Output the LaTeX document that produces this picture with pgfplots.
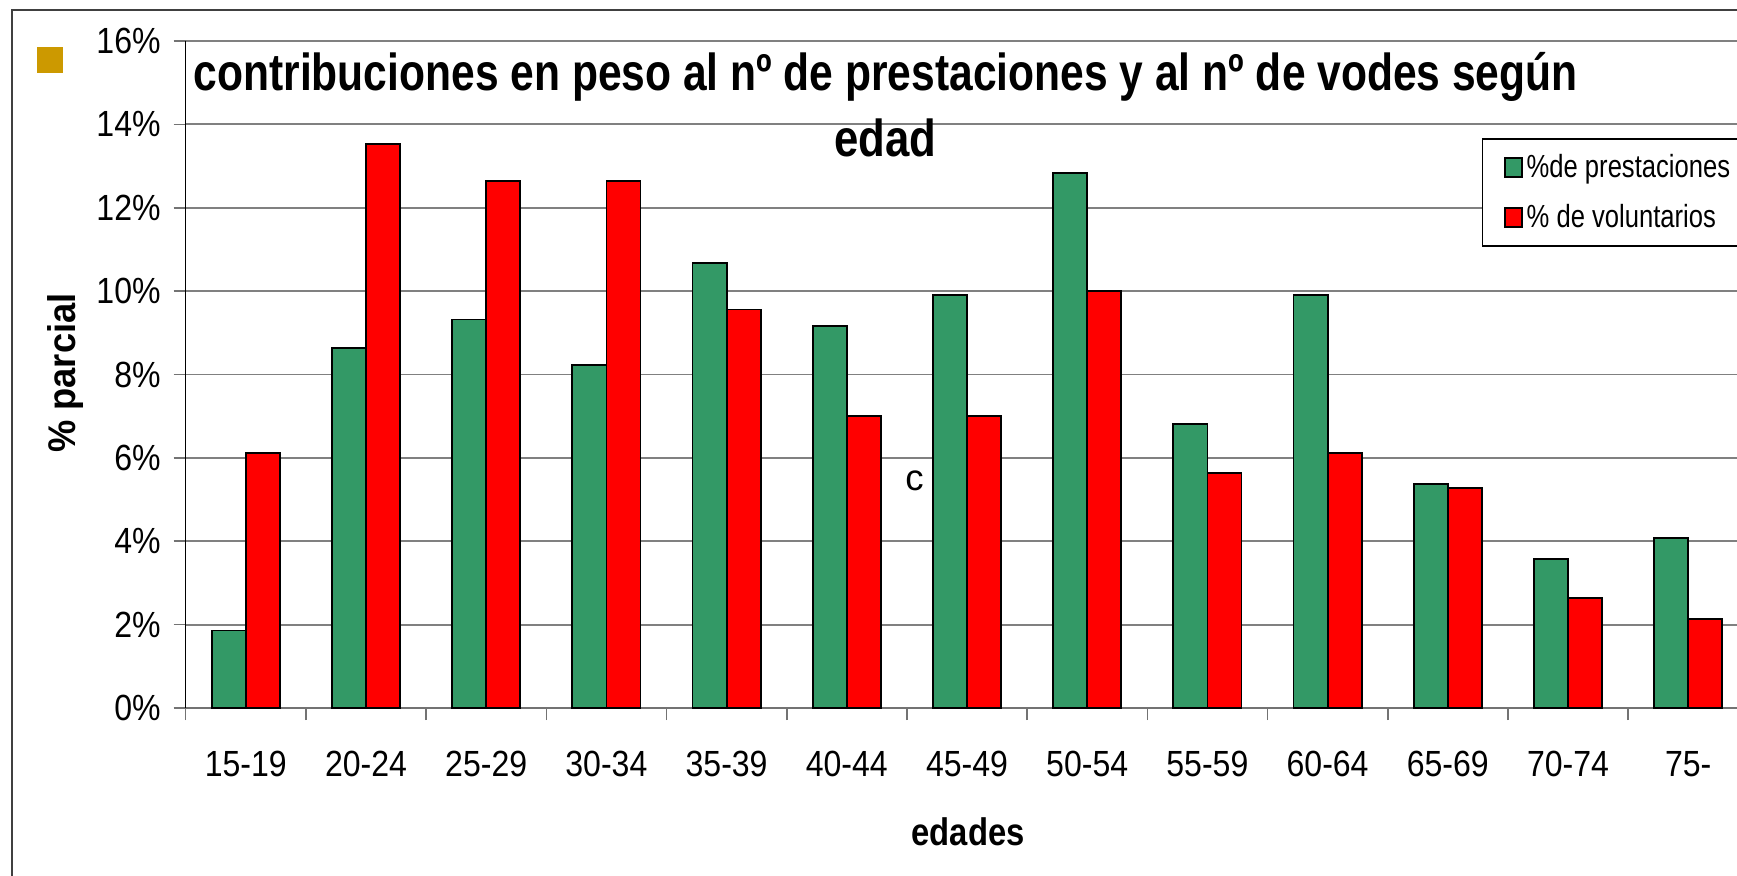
\documentclass[border=0pt]{standalone}
\usepackage{pgfplots}
\pgfplotsset{compat=1.18}
\usepackage{fontspec}
\setmainfont{Liberation Sans}
\newfontfamily\tickfont[FakeStretch=0.88]{Liberation Sans}
\newfontfamily\legfont[FakeStretch=0.8]{Liberation Sans}
\newfontfamily\ylabfont[FakeStretch=0.94]{Liberation Sans}
\definecolor{cgreen}{RGB}{51,153,102}
\definecolor{cred}{RGB}{255,0,0}
\definecolor{gold}{RGB}{204,153,0}
\begin{document}
\begin{tikzpicture}
\path[use as bounding box] (-92.85pt,-83.5pt) rectangle (775.65pt,354pt);
\clip (-92.85pt,-83.5pt) rectangle (775.65pt,354pt);
\fill[white] (-92.85pt,-83.5pt) rectangle (775.65pt,354pt);
\draw[line width=1pt, black!75] (-86.7pt,-100pt) -- (-86.7pt,349pt) -- (800pt,349pt);
\fill[gold] (-74.2pt,317.35pt) rectangle (-61.2pt,330.35pt);
\begin{axis}[
  scale only axis, width=775.65pt, height=333.5pt,
  xmin=-0.5, xmax=12.406, ymin=0, ymax=16,
  axis x line*=bottom, axis y line*=left,
  x axis line style={-, draw=black!55, line width=1pt},
  y axis line style={-, draw=black, line width=0.65pt},
  xtick={-0.5,0.5,...,11.5},
  xticklabels={},
  extra x ticks={0,...,12},
  extra x tick labels={15-19,20-24,25-29,30-34,35-39,40-44,45-49,50-54,55-59,60-64,65-69,70-74,75-},
  extra x tick style={major tick length=0pt, grid=none},
  ytick={0,2,...,16},
  yticklabels={0\%,2\%,4\%,6\%,8\%,10\%,12\%,14\%,16\%},
  tick align=outside,
  major tick length=6pt,
  tick style={draw=black!55, line width=0.8pt},
  ymajorgrids, major grid style={draw=black!50, line width=0.9pt},
  xticklabel style={font=\tickfont\fontsize{18.2}{20}\selectfont, anchor=base, inner sep=0pt, yshift=-34pt},
  yticklabel style={font=\tickfont\fontsize{18.2}{20}\selectfont, anchor=east, inner sep=0pt, xshift=-6.35pt},
  legend style={at={(0.8358,0.8541)}, anchor=north west, draw=black, line width=0.6pt, fill=white,
    font=\legfont\fontsize{16}{19}\selectfont, inner xsep=10.5pt, inner ysep=6.8pt,
    row sep=9.8pt, column sep=0.8pt, nodes={inner sep=1pt}},
  legend cell align=left,
  clip=false,
]
\addplot[ybar, bar width=0.283, bar shift=-0.1415, fill=cgreen, draw=black, line width=0.9pt,
  legend image code/.code={\draw[fill=cgreen, draw=black, line width=0.9pt] (0pt,-4.8pt) rectangle (8.7pt,4.8pt);}]
  coordinates {(0,1.86) (1,8.63) (2,9.32) (3,8.23) (4,10.68) (5,9.16) (6,9.90) (7,12.83) (8,6.82) (9,9.90) (10,5.38) (11,3.57) (12,4.07)};
\addlegendentry{\vphantom{pd}\%de prestaciones}
\addplot[ybar, bar width=0.283, bar shift=0.1415, fill=cred, draw=black, line width=0.9pt,
  legend image code/.code={\draw[fill=cred, draw=black, line width=0.9pt] (0pt,-4.8pt) rectangle (8.7pt,4.8pt);}]
  coordinates {(0,6.12) (1,13.52) (2,12.65) (3,12.65) (4,9.56) (5,7.00) (6,7.00) (7,10.01) (8,5.64) (9,6.12) (10,5.27) (11,2.64) (12,2.13)};
\addlegendentry{\vphantom{pd}\% de voluntarios}
\end{axis}
\node[anchor=base west, inner sep=0pt] at (3.8pt,308.7pt) {\resizebox{692pt}{\height}{\bfseries\fontsize{26}{30}\selectfont contribuciones en peso al nº de prestaciones y al nº de vodes según}};
\node[anchor=base, inner sep=0pt] at (349.65pt,275.5pt) {\resizebox{51pt}{\height}{\bfseries\fontsize{26}{30}\selectfont edad}};
\node[anchor=base, inner sep=0pt] at (391.2pt,-68.5pt) {\resizebox{56.5pt}{\height}{\bfseries\fontsize{19.2}{22}\selectfont edades}};
\node[rotate=90, inner sep=0pt] at (-59.9pt,167.5pt) {\ylabfont\bfseries\fontsize{19.3}{22}\selectfont\% parcial};
\node[inner sep=0pt] at (364.4pt,113.5pt) {\fontsize{18.3}{20}\selectfont c};
\end{tikzpicture}
\end{document}
